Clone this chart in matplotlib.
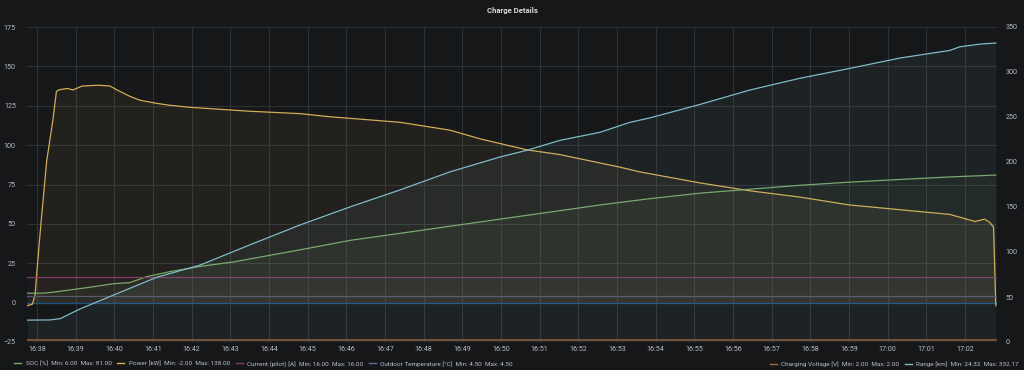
import matplotlib.pyplot as plt
from matplotlib.lines import Line2D

plt.rcParams['font.family'] = ['Roboto', 'DejaVu Sans']

# minutes after 16:38
power_t = [-0.26, -0.12, -0.05, 0.0, 0.1, 0.25, 0.41, 0.5, 0.55, 0.78, 0.93, 1.16, 1.55,
           1.63, 1.89, 2.07, 2.40, 2.66, 3.10, 3.44, 3.96, 5.51, 6.80, 7.58, 9.39, 10.68,
           11.46, 12.67, 13.52, 14.30, 15.08, 15.59, 17.15, 18.44, 19.73, 21.02, 22.32,
           23.61, 24.26, 24.51, 24.64, 24.74, 24.80]
power = [-2, -1, 5, 21, 50, 90, 116, 134, 135, 136, 135, 137.5, 138,
         138, 137.5, 135, 131, 128.5, 126.5, 125.3, 124, 121.5, 120, 118, 114.5, 109.5,
         104, 97, 94, 90, 86, 83, 76, 71, 67, 62, 59,
         56, 51.5, 53, 51, 48, -2]

soc_t = [-0.26, 0.155, 0.41, 1.29, 1.97, 2.40, 2.84, 3.44, 4.22, 5.07, 6.80, 8.09, 9.39,
         10.68, 11.97, 13.27, 14.56, 15.85, 17.15, 18.44, 19.73, 21.02, 22.32, 23.61, 24.80]
soc = [6, 6, 6.6, 9.5, 12, 12.7, 16.5, 19.7, 23, 25.8, 33.5, 39.5, 44,
       48.5, 53, 57.5, 62, 66, 69.5, 72, 74.5, 76.5, 78.2, 79.8, 81]

range_t = [-0.26, 0.34, 0.6, 1.11, 1.97, 3.10, 4.22, 5.51, 6.80, 8.09, 9.39, 10.68, 11.46,
           11.97, 12.67, 13.52, 14.56, 15.33, 15.85, 17.15, 18.44, 19.73, 21.02, 22.32,
           23.61, 23.87, 24.39, 24.80]
range_km = [24.32, 24.5, 26, 36.7, 52, 72, 85.5, 108, 130, 150, 169, 189, 199,
            205.5, 213, 224, 233, 244, 249, 264, 280, 293, 304, 315.5,
            324, 328, 331, 332.17]

flat_t = [-0.26, 24.80]
current = [16.0, 16.0]
outdoor = [4.5, 4.5]
voltage = [2.0, 2.0]

c_soc = '#7aa86a'
c_power = '#d3ad55'
c_current = '#7e3f68'
c_outdoor = '#585b6e'
c_volt = '#7f5438'
c_range = '#7ebcc8'
bg = '#161719'
txt = '#b8bcc4'

fig = plt.figure(figsize=(10.24, 3.70), dpi=100, facecolor=bg)
ax = fig.add_axes([27/1024, 28/370, 970/1024, 315/370])
ax.set_facecolor(bg)
ax2 = ax.twinx()
ax2.patch.set_visible(False)

ax.set_xlim(-0.26, 24.83)
ax.set_ylim(-25, 175)
ax2.set_ylim(0, 350)

ax.grid(True, color='#2e3136', lw=0.8)
ax.set_axisbelow(True)
ax.axhline(0, color='#1d5288', lw=0.9, zorder=1)

ax.fill_between(power_t, power, 0, color=c_power, alpha=0.07, lw=0)
ax.plot(power_t, power, color=c_power, lw=0.9)
ax.fill_between(soc_t, soc, 0, color=c_soc, alpha=0.07, lw=0)
ax.plot(soc_t, soc, color=c_soc, lw=0.9)
ax.fill_between(flat_t, current, 0, color=c_current, alpha=0.05, lw=0)
ax.plot(flat_t, current, color=c_current, lw=0.9)
ax.plot(flat_t, outdoor, color=c_outdoor, lw=0.9)

ax2.fill_between(range_t, range_km, 0, color=c_range, alpha=0.07, lw=0)
ax2.plot(range_t, range_km, color=c_range, lw=0.9)
ax2.plot(flat_t, voltage, color=c_volt, lw=1.3)

ticks = list(range(0, 25))
labels = ['%d:%02d' % (16 + (38 + m) // 60, (38 + m) % 60) for m in ticks]
ax.set_xticks(ticks)
ax.set_xticklabels(labels)
ax.set_yticks(range(-25, 176, 25))
ax2.set_yticks(range(0, 351, 50))

for a in (ax, ax2):
    for s in a.spines.values():
        s.set_visible(False)
    a.tick_params(length=0, colors=txt, labelsize=5.1)
ax.tick_params(axis='x', pad=3)
ax.tick_params(axis='y', pad=8)
ax2.tick_params(axis='y', pad=6)

fig.text(0.5, 1 - 10/370, 'Charge Details', ha='center', va='center',
         color='#d8d9da', fontsize=5.6, fontweight='bold')

def entry(name, vals):
    return '%s  Min: %.2f  Max: %.2f' % (name, min(vals), max(vals))

left_h = [Line2D([], [], color=c, lw=1) for c in (c_soc, c_power, c_current, '#5a6f9a')]
left_l = [entry('SOC [%]', soc), entry('Power [kW]', power),
          entry('Current (pilot) [A]', current), entry('Outdoor Temperature [°C]', outdoor)]
fig.legend(left_h, left_l, loc='center left', bbox_to_anchor=(14/1024, 6/370),
           ncol=4, frameon=False, fontsize=4.6, handlelength=1.1,
           handletextpad=0.7, columnspacing=0.9, labelcolor=txt,
           borderpad=0, borderaxespad=0)

right_h = [Line2D([], [], color=c, lw=1) for c in ('#a8683f', c_range)]
right_l = [entry('Charging Voltage [V]', voltage), entry('Range [km]', range_km)]
fig.legend(right_h, right_l, loc='center right', bbox_to_anchor=(1019/1024, 6/370),
           ncol=2, frameon=False, fontsize=4.6, handlelength=1.1,
           handletextpad=0.7, columnspacing=0.9, labelcolor=txt,
           borderpad=0, borderaxespad=0)

fig.savefig('out.png', dpi=100, facecolor=bg)
